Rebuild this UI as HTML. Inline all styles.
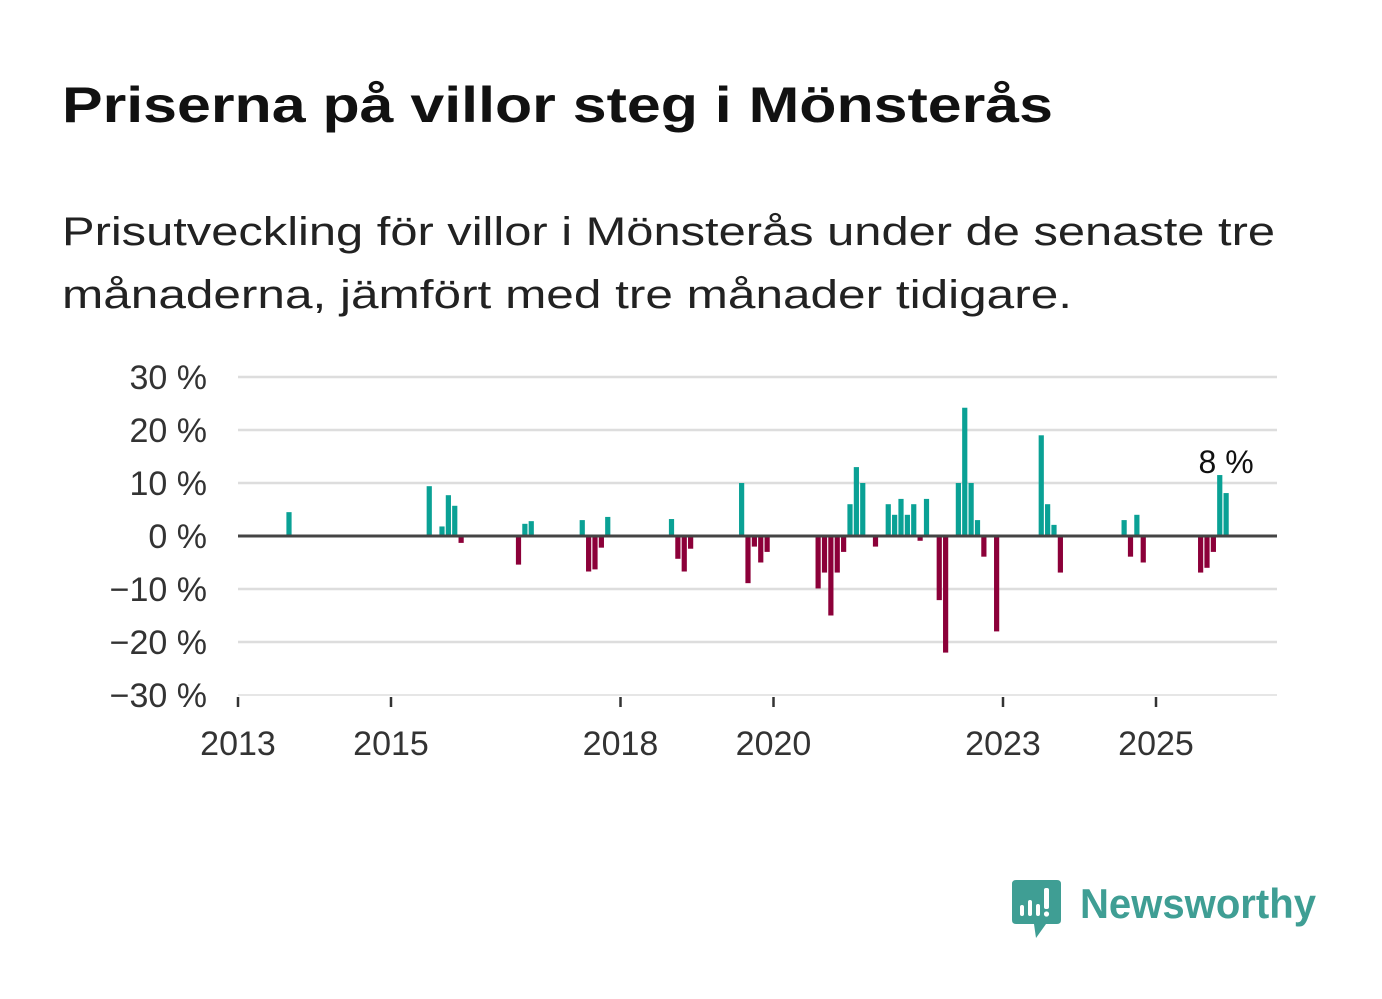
<!DOCTYPE html>
<html><head><meta charset="utf-8"><style>
html,body{margin:0;padding:0;background:#fff;}
svg{display:block;font-family:"Liberation Sans",sans-serif;}
</style></head><body>
<svg width="1382" height="999" viewBox="0 0 1382 999">
<text x="62" y="122" font-size="50" font-weight="bold" fill="#111" textLength="991" lengthAdjust="spacingAndGlyphs">Priserna på villor steg i Mönsterås</text>
<text x="62" y="245" font-size="40" fill="#222" textLength="1213" lengthAdjust="spacingAndGlyphs">Prisutveckling för villor i Mönsterås under de senaste tre</text>
<text x="62" y="308" font-size="40" fill="#222" textLength="1010" lengthAdjust="spacingAndGlyphs">månaderna, jämfört med tre månader tidigare.</text>
<g id="grid"></g>
<g id="ylabels"></g>
<g id="xaxis"></g>
<g id="bars"></g>
<line x1="238" x2="1277" y1="536" y2="536" stroke="#444" stroke-width="3"/>
<g id="annot"></g>
<g>
<path d="M1016 880 H1057 Q1061 880 1061 884 V920 Q1061 924 1057 924 H1046 L1036 938 L1034 924 H1016 Q1012 924 1012 920 V884 Q1012 880 1016 880 Z" fill="#3f9e94"/>
<rect x="1020" y="905" width="4" height="11" rx="2" fill="#fff"/>
<rect x="1028" y="900" width="4" height="16" rx="2" fill="#fff"/>
<rect x="1036" y="904" width="4" height="12" rx="2" fill="#fff"/>
<rect x="1044" y="888" width="5" height="21" rx="2" fill="#fff"/>
<circle cx="1046.5" cy="914" r="2.6" fill="#fff"/>
<text x="1080" y="918" font-size="42" font-weight="bold" fill="#3f9e94" textLength="236" lengthAdjust="spacingAndGlyphs">Newsworthy</text>
</g>
</svg>
<script>
const yTicks = [30, 20, 10, 0, -10, -20, -30];
const xTickYears = [2013, 2015, 2018, 2020, 2023, 2025];
const barMonths = ["2013-09","2015-07","2015-09","2015-10","2015-11","2015-12","2016-09","2016-10","2016-11","2017-07","2017-08","2017-09","2017-10","2017-11","2018-09","2018-10","2018-11","2018-12","2019-08","2019-09","2019-10","2019-11","2019-12","2020-08","2020-09","2020-10","2020-11","2020-12","2021-01","2021-02","2021-03","2021-05","2021-07","2021-08","2021-09","2021-10","2021-11","2021-12","2022-01","2022-03","2022-04","2022-06","2022-07","2022-08","2022-09","2022-10","2022-12","2023-07","2023-08","2023-09","2023-10","2024-08","2024-09","2024-10","2024-11","2025-08","2025-09","2025-10","2025-11","2025-12"];
const barValues = [4.5,9.4,1.8,7.7,5.7,-1.3,-5.4,2.3,2.8,3.0,-6.7,-6.3,-2.2,3.6,3.2,-4.3,-6.7,-2.4,10,-8.9,-2.0,-5.0,-3.0,-9.9,-6.9,-15.0,-6.9,-3.0,6.0,13.0,10.0,-2.0,6.0,4.0,7.0,4.0,6.0,-0.9,7.0,-12.1,-22.0,10.0,24.2,10.0,3.0,-3.9,-18.0,19.0,6.0,2.1,-6.9,3.0,-3.9,4.0,-5.0,-6.9,-6.0,-3.0,11.5,8.1];
const lastLabel = "8 %";

const NS="http://www.w3.org/2000/svg";
function xScale(yr){return 238+(yr-2013)*76.5;}
function yScale(v){return 536-v*5.3;}
function mk(tag,attrs,parent){const e=document.createElementNS(NS,tag);for(const k in attrs)e.setAttribute(k,attrs[k]);parent.appendChild(e);return e;}
const grid=document.getElementById('grid'),yl=document.getElementById('ylabels'),xa=document.getElementById('xaxis'),bars=document.getElementById('bars'),an=document.getElementById('annot');
yTicks.forEach(v=>{
  if(v!==0){const l=mk('line',{x1:238,x2:1277,y1:yScale(v),y2:yScale(v),stroke:'#ddd','stroke-width':v===-30?1.5:2.5},grid);
  
  }
  const t=mk('text',{x:207,y:yScale(v)+12,'text-anchor':'end','font-size':34,fill:'#333'},yl);
  
  
  t.textContent=(v<0?'\u2212'+(-v):v)+' %';
});
xTickYears.forEach(y=>{
  const x=xScale(y);
  const l=mk('line',{x1:x,x2:x,y1:697,y2:707,stroke:'#333','stroke-width':2.5},xa);
  
  
  const t=mk('text',{x:x,y:755,'text-anchor':'middle','font-size':34,fill:'#333'},xa);
  
  
  t.textContent=y;
});
let lastX=0,lastY=0;
barMonths.forEach((m,i)=>{
  const [yy,mm]=m.split('-').map(Number);
  const cx=xScale(yy+(mm-1)/12);
  const v=barValues[i];
  const y0=yScale(0),y1=yScale(v);
  const r=mk('rect',{x:cx-2.6,y:Math.min(y0,y1),width:5.2,height:Math.abs(y1-y0),fill:v>=0?'#0aa195':'#8c0039'},bars);
  
  
  lastX=cx;lastY=y1;
});
const at=mk('text',{x:lastX,y:473,'text-anchor':'middle','font-size':32,fill:'#111'},an);


at.textContent=lastLabel;
</script>
</body></html>
